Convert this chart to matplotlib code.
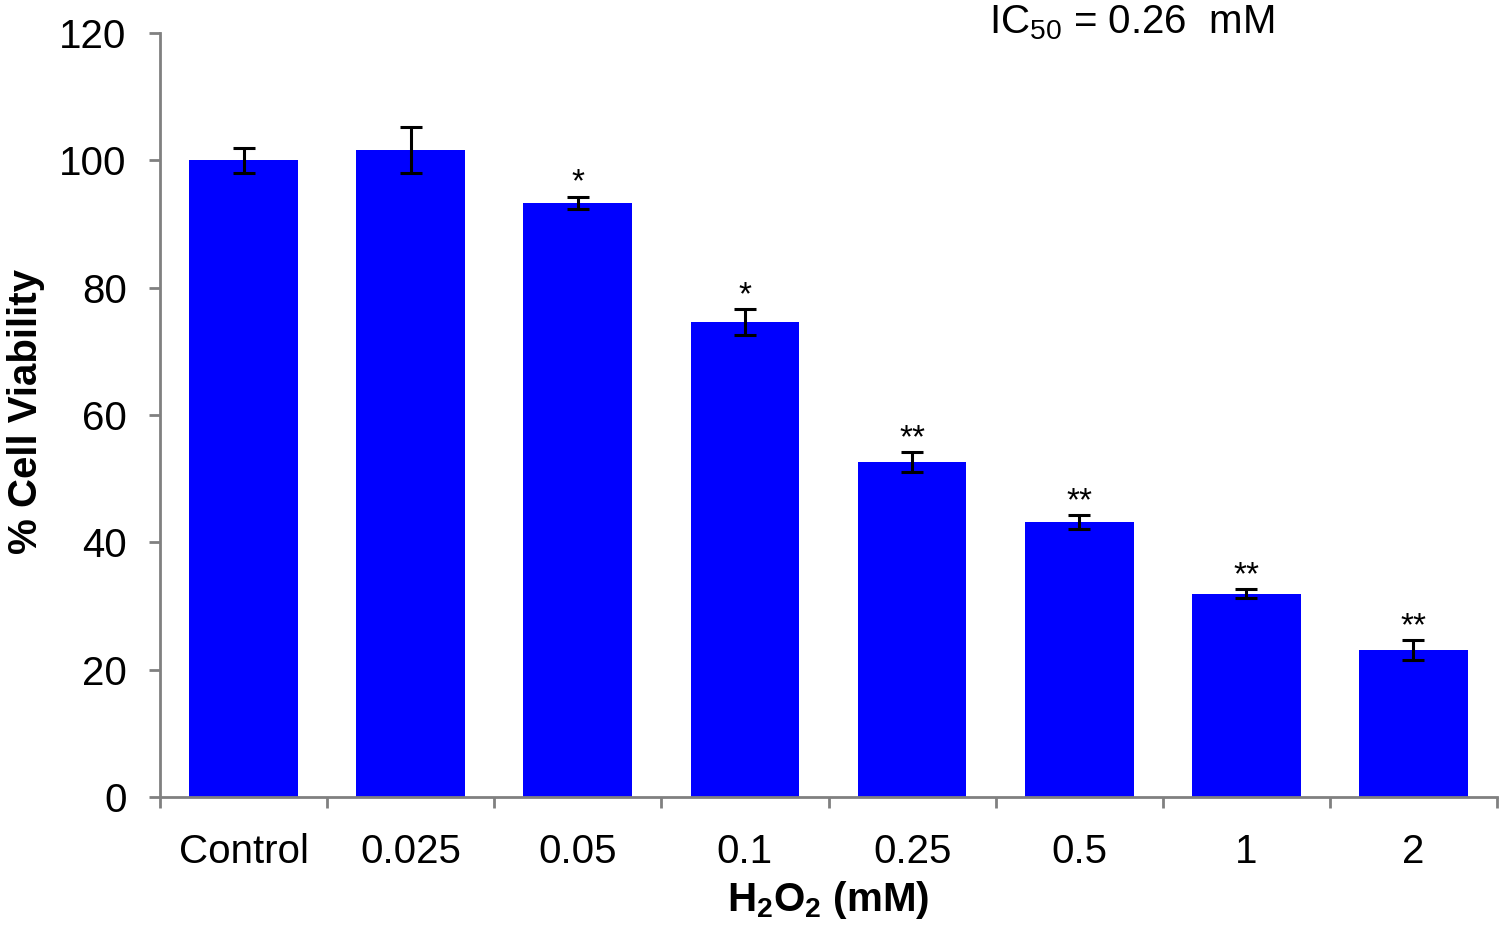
import matplotlib.pyplot as plt
import numpy as np

plt.rcParams['font.family'] = ['Liberation Sans', 'DejaVu Sans']
plt.rcParams['mathtext.fontset'] = 'custom'
plt.rcParams['mathtext.rm'] = 'Liberation Sans'
plt.rcParams['mathtext.bf'] = 'Liberation Sans:bold'

categories = ["Control", "0.025", "0.05", "0.1", "0.25", "0.5", "1", "2"]
viability = [100.0, 101.6, 93.3, 74.6, 52.6, 43.2, 31.9, 23.1]
errors = [2.0, 3.6, 1.0, 2.0, 1.6, 1.1, 0.7, 1.5]
stars = ["", "", "*", "*", "**", "**", "**", "**"]

fig = plt.figure(figsize=(15.05, 9.27), dpi=100)
ax = fig.add_axes([0.1063, 0.1402, 0.8884, 0.8242])

x = np.arange(len(categories))
ax.bar(x, viability, width=0.65, color="#0000ff", zorder=2)
ax.errorbar(x, viability, yerr=errors, fmt="none", ecolor="black",
            elinewidth=2.2, capsize=8, capthick=2.2, zorder=3)

for xi, v, e, s in zip(x, viability, errors, stars):
    if s:
        ax.text(xi, v + e - 0.3, s, ha="center", va="bottom", fontsize=24)

ax.set_xlim(-0.5, len(categories) - 0.5)
ax.set_ylim(0, 120)
ax.set_yticks(range(0, 121, 20))
ax.set_xticks(x)
ax.set_xticklabels(categories)
ax.set_xticks(np.arange(-0.5, len(categories)), minor=True)

ax.tick_params(axis="y", which="major", direction="out", length=8, width=2,
               color="#808080", labelsize=29, pad=16)
ax.tick_params(axis="x", which="major", length=0, labelsize=29, pad=26)
ax.tick_params(axis="x", which="minor", direction="out", length=8, width=2,
               color="#808080")

for side in ["top", "right"]:
    ax.spines[side].set_visible(False)
for side in ["left", "bottom"]:
    ax.spines[side].set_color("#808080")
    ax.spines[side].set_linewidth(2)

ax.set_ylabel("% Cell Viability", fontsize=29, fontweight="bold")
ax.yaxis.set_label_coords(-0.086, 0.504)
ax.set_xlabel(r"H$_\mathbf{2}$O$_\mathbf{2}$ (mM)", fontsize=29,
              fontweight="bold", labelpad=6)

fig.text(0.752, 0.975, "IC$_{50}$ = 0.26  mM", ha="center", va="center",
         fontsize=29)

fig.savefig("out.png", dpi=100)
